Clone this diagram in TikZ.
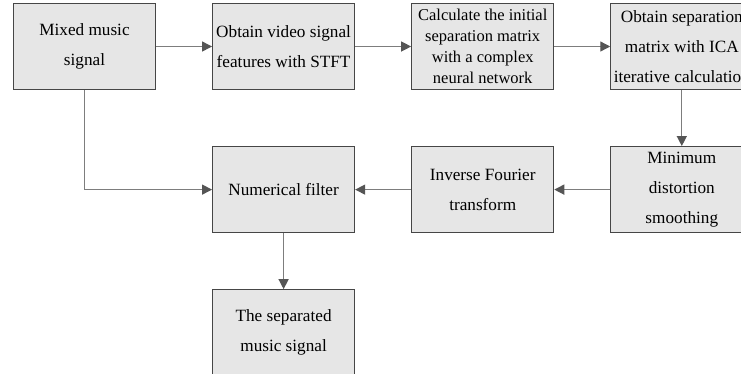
\documentclass[tikz,border=0pt]{standalone}
\usepackage{fontspec}
\setmainfont{Liberation Serif}
\usetikzlibrary{positioning,arrows.meta}
\definecolor{boxfill}{RGB}{230,230,230}
\definecolor{boxline}{RGB}{70,70,70}
\definecolor{flowline}{RGB}{125,125,125}
\definecolor{headgray}{RGB}{85,85,85}
\newcommand{\tightfont}{\fontsize{16.5}{21}\selectfont}

\begin{document}
\begin{tikzpicture}[x=1pt,y=1pt,
    node distance=56pt and 56pt,
    procbox/.style={draw=boxline, fill=boxfill, line width=1.1pt,
      minimum width=142pt, minimum height=86pt, inner sep=0pt,
      align=center, font=\fontsize{17.2}{30}\selectfont},
    tightbox/.style={procbox, font=\tightfont},
    flow/.style={draw=flowline, line width=1.3pt,
      -{Triangle[length=10pt,width=10pt,color=headgray]}}]
    % Fixed frame, the right column is cut by the edge
    \clip (0,0) rectangle (741,-373);

    % Top row
    \node[procbox] (mix) at (84.5,-46.5) {Mixed music\\signal};
    \node[procbox, right=of mix] (stft) {Obtain video signal\\features with STFT};
    \node[tightbox, right=of stft] (init) {Calculate the initial\\separation matrix\\with a complex\\neural network};
    \node[procbox, right=of init] (ica) {Obtain separation\\matrix with ICA\\iterative calculation};

    % Second row, right to left
    \node[procbox, below=of ica] (smooth) {Minimum\\distortion\\smoothing};
    \node[procbox, left=of smooth] (ifft) {Inverse Fourier\\transform};
    \node[procbox, left=of ifft] (filt) {Numerical filter};

    % Output
    \node[procbox, below=of filt] (out) {The separated\\music signal};

    % Connectors
    \draw[flow] (mix) -- (stft);
    \draw[flow] (stft) -- (init);
    \draw[flow] (init) -- (ica);
    \draw[flow] (ica) -- (smooth);
    \draw[flow] (smooth) -- (ifft);
    \draw[flow] (ifft) -- (filt);
    \draw[flow] (filt) -- (out);
    \draw[flow] (mix.south) |- (filt.west);
\end{tikzpicture}
\end{document}
